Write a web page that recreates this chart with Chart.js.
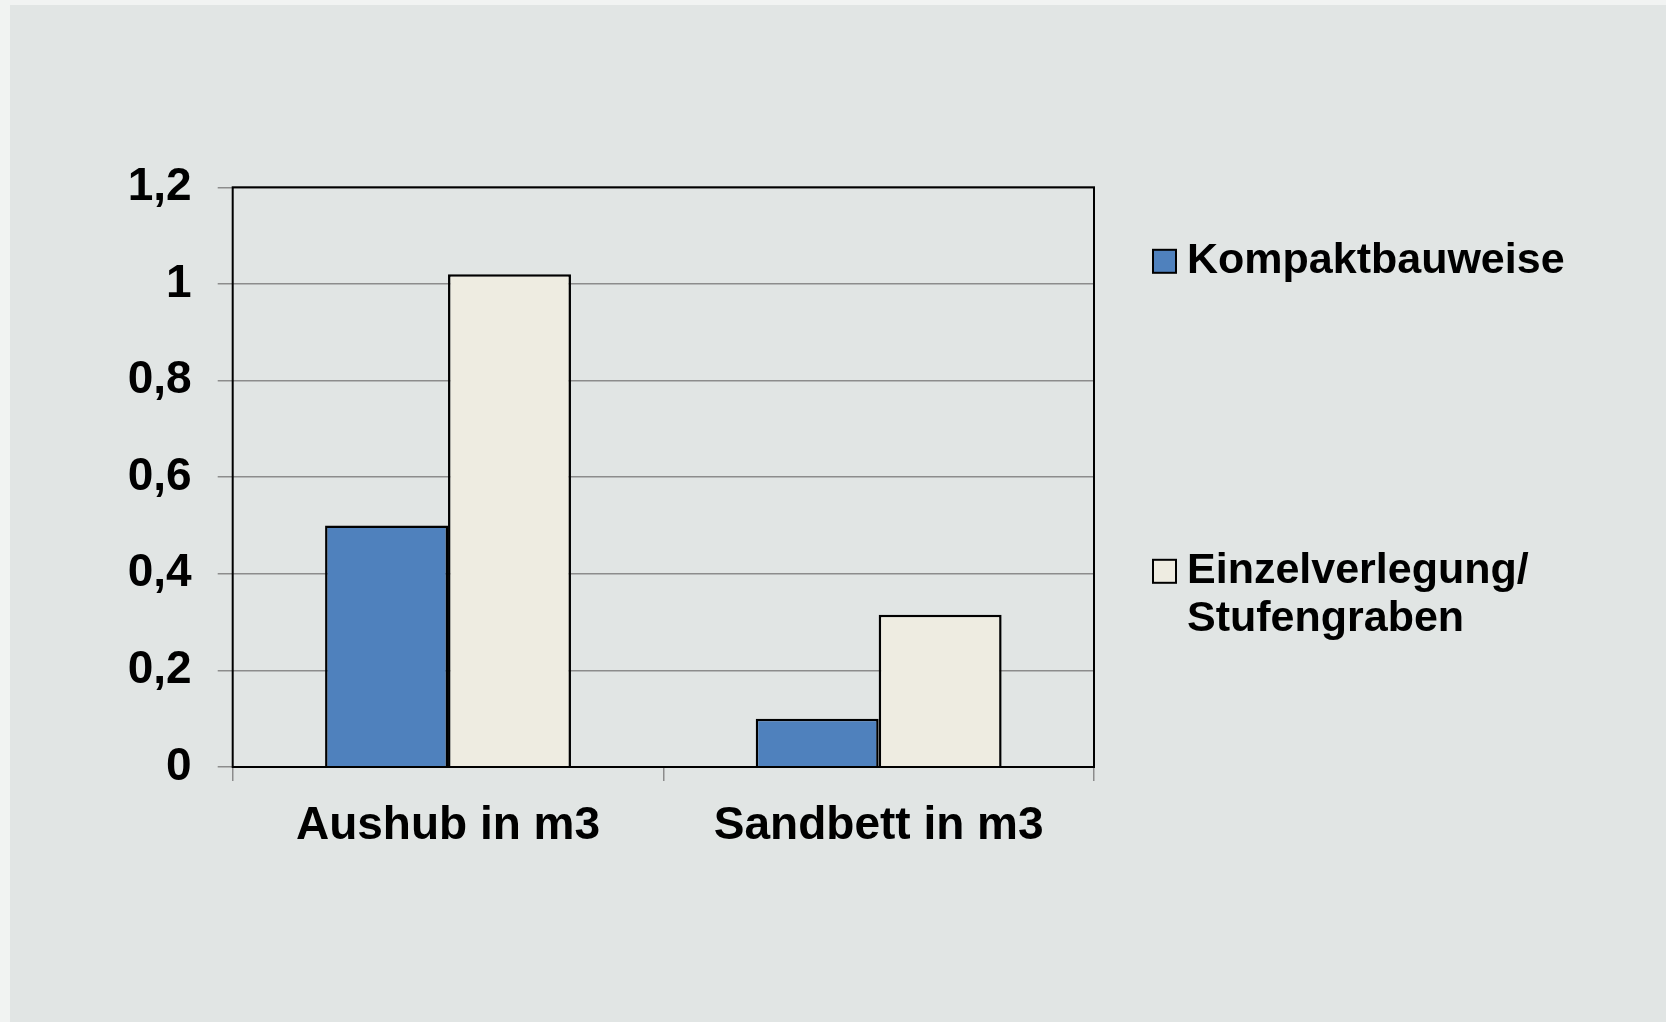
<!DOCTYPE html>
<html>
<head>
<meta charset="utf-8">
<script src="https://cdn.jsdelivr.net/npm/chart.js@4"></script>
<style>
  html, body { margin: 0; padding: 0; background: #f1f3f2; }
  #wrap { position: absolute; left: 10px; top: 5px; width: 1656px; height: 1017px; background: #e1e5e4; }
</style>
</head>
<body>
<div id="wrap"><canvas id="barChart"></canvas></div>
<script>
const categories = ['Aushub in m3', 'Sandbett in m3'];
const seriesNames = ['Kompaktbauweise', ['Einzelverlegung/', 'Stufengraben']];
const kompakt = [0.5, 0.1];
const einzel = [1.02, 0.315];
const yTickLabels = ['0', '0,2', '0,4', '0,6', '0,8', '1', '1,2'];
const colors = ['#4f81bd', '#eeece1'];

const FONT = '"Liberation Sans", Arial, sans-serif';

// box around the plot area + legend on the right
const framePlugin = {
  id: 'frame',
  afterDatasetsDraw(chart) {
    const a = chart.chartArea;
    const ctx = chart.ctx;
    ctx.save();
    ctx.strokeStyle = '#000';
    ctx.lineWidth = 2;
    ctx.strokeRect(a.left, a.top, a.right - a.left, a.bottom - a.top);
    ctx.restore();
  },
  afterDraw(chart) {
    const a = chart.chartArea;
    const ctx = chart.ctx;
    const x = a.right + 59;
    const rows = [a.top + 74, a.top + 384];
    ctx.save();
    ctx.font = 'bold 43px ' + FONT;
    ctx.textBaseline = 'middle';
    ctx.fillStyle = '#000';
    chart.data.datasets.forEach(function(ds, i) {
      const y = rows[i];
      ctx.fillStyle = ds.backgroundColor;
      ctx.fillRect(x, y - 11.5, 23, 23);
      ctx.strokeStyle = '#000';
      ctx.lineWidth = 2;
      ctx.strokeRect(x, y - 11.5, 23, 23);
      ctx.fillStyle = '#000';
      const lines = Array.isArray(ds.label) ? ds.label : [ds.label];
      lines.forEach(function(t, k) {
        ctx.fillText(t, x + 34, y + k * 48);
      });
    });
    ctx.restore();
  }
};

const data = {
  labels: categories,
  datasets: [{
    label: seriesNames[0],
    data: kompakt,
    backgroundColor: colors[0],
    borderColor: '#000',
    borderWidth: 2.5
  }, {
    label: seriesNames[1],
    data: einzel,
    backgroundColor: colors[1],
    borderColor: '#000',
    borderWidth: 2.5
  }]
};

const config = {
  type: 'bar',
  data: data,
  plugins: [framePlugin],
  options: {
    responsive: true,
    maintainAspectRatio: false,
    animation: false,
    layout: { padding: { left: 92.7, right: 572, top: 182.3, bottom: 145 } },
    datasets: { bar: { categoryPercentage: 0.571, barPercentage: 1 } },
    plugins: {
      legend: { display: false },
      tooltip: { enabled: false }
    },
    scales: {
      x: {
        afterFit: function(scale) { scale.height = 110; },
        border: { display: false },
        grid: {
          offset: true,
          drawOnChartArea: false,
          drawTicks: true,
          tickLength: 14,
          color: '#8c8c8c',
          lineWidth: 1.5
        },
        ticks: {
          color: '#000',
          padding: 18,
          font: { family: FONT, size: 46, weight: 'bold' }
        }
      },
      y: {
        min: 0,
        max: 1.2,
        afterFit: function(scale) { scale.width = 130; },
        border: { display: false },
        grid: {
          color: '#8c8c8c',
          lineWidth: 1.5,
          tickLength: 15
        },
        ticks: {
          stepSize: 0.2,
          color: '#000',
          padding: 26,
          font: { family: FONT, size: 46, weight: 'bold' },
          callback: function(value, index) { return yTickLabels[index]; }
        }
      }
    }
  }
};

var ctx = document.getElementById('barChart');
var myChart = new Chart(ctx, config);
</script>
</body>
</html>
